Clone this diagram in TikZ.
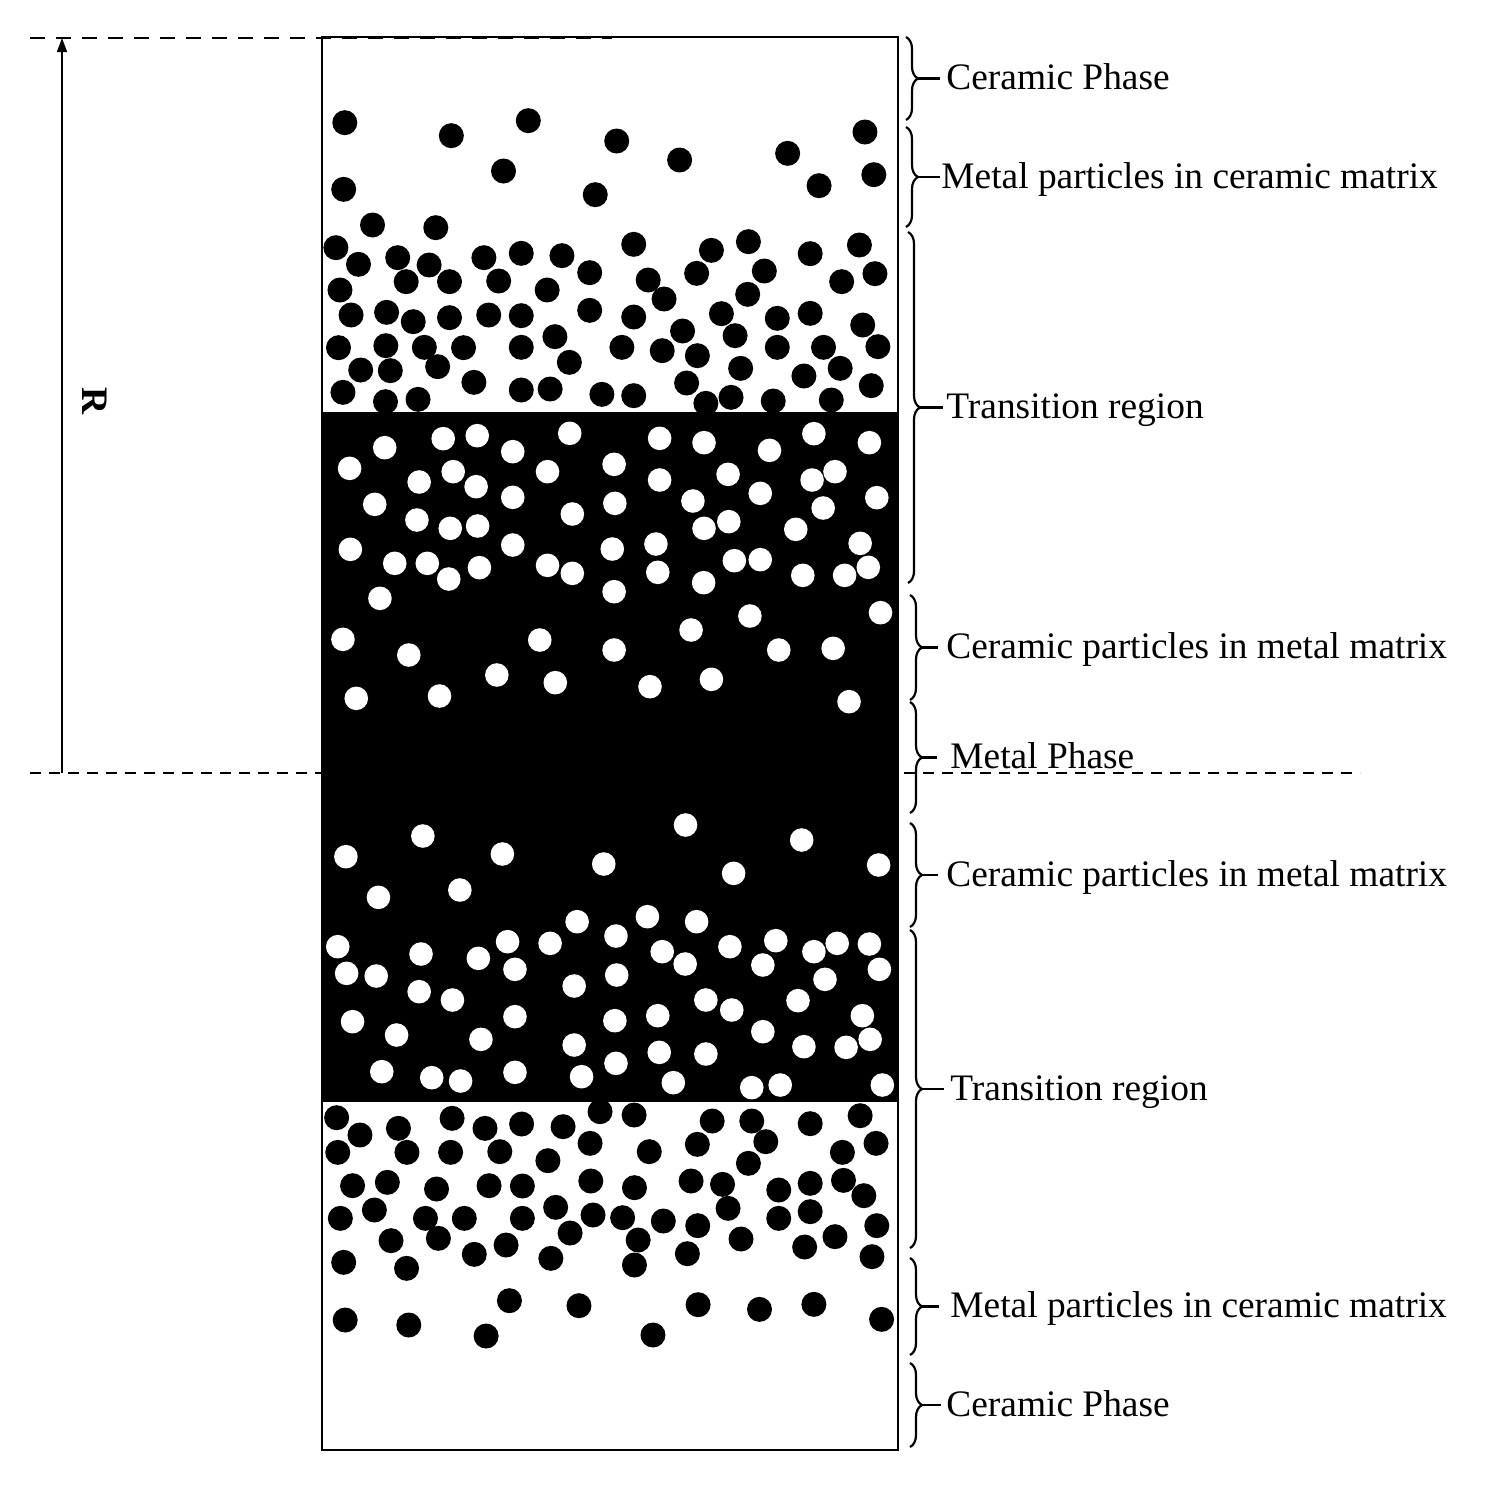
\documentclass[tikz,border=0pt]{standalone}
\usepackage{fontspec}
\setmainfont{Liberation Serif}
\usetikzlibrary{decorations.pathreplacing,arrows.meta}
\begin{document}
\begin{tikzpicture}[x=0.5pt,y=-0.5pt,
  lbl/.style={anchor=base west,inner sep=0pt,font=\fontsize{18.7}{22}\selectfont},
  brc/.style={decorate,decoration={brace,amplitude=6pt},line width=1.1pt},
  tickline/.style={line width=1.1pt},
  bdot/.style={fill=black},
  wdot/.style={fill=white},
  dashA/.style={line width=1pt,dash pattern=on 7.5pt off 5.5pt},
  dashB/.style={line width=0.9pt,dash pattern=on 5.5pt off 4pt}]
\useasboundingbox (0,0) rectangle (1498,1490);
\fill[white] (0,0) rectangle (1498,1490);

% black metal band
\fill[black] (322,412) rectangle (898,1102);

% black (metal) particles, upper part
\foreach \a/\b in {67/68, 355/107, 563/62, 802/123, 972/180, 1264/160, 1473/96, 1497/224, 1349/257, 744/284, 496/213, 64/268, 142/375, 313/383}
  \fill[bdot] ({320+\a/2.703},{100+\b/3}) circle[radius=6.25pt];
\foreach \a/\b in {43/68, 104/118, 210/98, 295/120, 233/170, 350/170, 443/98, 544/85, 654/92, 729/143, 483/168, 614/195, 848/58, 887/165, 930/222, 1058/76, 1158/50, 1018/145, 1201/138, 1156/208, 1325/86, 1458/60, 1500/146, 1410/170, 54/195, 84/270, 180/262, 252/290, 350/278, 456/270, 544/272, 729/256, 848/276, 1085/266, 1236/280, 1325/265, 1467/300, 50/368, 178/362, 282/367, 388/368, 544/367, 635/335, 816/367, 980/318, 1122/332, 925/377, 1020/392, 1236/367, 1361/367, 1508/365, 110/435, 190/437, 318/425, 674/412, 1137/430, 1308/453, 1406/430, 62/502, 177/530, 265/523, 416/472, 544/495, 622/492, 762/508, 848/512, 991/474, 1043/535, 1111/517, 1225/528, 1382/525, 1490/482}
  \fill[bdot] ({320+\a/2.703},{225+\b/3}) circle[radius=6.25pt];

% white (ceramic) particles in the metal band
\foreach \a/\b in {80/175, 175/113, 333/86, 425/77, 521/125, 675/70, 918/85, 1038/98, 1215/121, 1335/71, 1485/98, 268/216, 360/185, 422/230, 615/185, 795/163, 918/210, 1103/193, 1190/250, 1330/210, 1392/185, 1505/263, 148/283, 521/262, 682/312, 797/280, 1008/273, 1360/294, 262/330, 352/355, 426/348, 1038/355, 1105/335, 1286/358, 82/418, 521/405, 790/417, 908/402, 1460/400, 202/460, 290/460, 348/507, 431/473, 615/466, 682/490, 913/487, 1120/452, 1190/449, 1037/518, 1305/496, 1418/496, 1482/472, 162/565, 795/545}
  \fill[wdot] ({320+\a/2.703},{410+\b/3}) circle[radius=5.9pt];
\foreach \a/\b in {1162/78, 1515/68, 62/148, 240/195, 594/150, 795/180, 1003/120, 1240/180, 1387/175, 478/255, 636/278, 892/290, 1058/268, 98/325, 323/318, 1430/335}
  \fill[wdot] ({320+\a/2.703},{590+\b/3}) circle[radius=5.9pt];
\foreach \a/\b in {70/170, 278/108, 493/162, 158/292, 378/270, 767/192, 988/75, 1118/220, 1302/120, 1510/195}
  \fill[wdot] ({320+\a/2.703},{800+\b/3}) circle[radius=5.9pt];
\foreach \a/\b in {695/65, 885/50, 1018/65, 48/140, 273/162, 428/175, 507/125, 622/130, 800/108, 925/155, 987/192, 1108/140, 1232/122, 1197/195, 1335/155, 1398/130, 1485/132, 1512/208, 72/220, 152/228, 527/208, 268/275, 358/300, 687/258, 802/225, 1043/300, 1113/330, 1292/302, 1365/238, 88/365, 207/405, 527/350, 435/418, 797/362, 913/347, 1197/395, 1466/347, 687/435, 917/457, 1043/462, 1308/440, 1422/442, 1487/418, 167/515, 302/533, 380/543, 527/517, 707/530, 800/490, 955/548, 1167/563, 1244/555, 1520/555}
  \fill[wdot] ({320+\a/2.703},{900+\b/3}) circle[radius=5.9pt];

% black (metal) particles, lower part
\foreach \a/\b in {45/68, 108/120, 212/100, 48/172, 235/172, 357/70, 446/100, 545/87, 657/95, 757/50, 849/60, 730/145, 486/170, 353/172, 616/197, 890/170, 1060/78, 1167/78, 1020/148, 1205/140, 1158/205, 1325/86, 1460/62, 1503/145, 1412/172, 88/272, 182/262, 315/282, 457/272, 547/273, 732/258, 850/278, 1003/258, 1088/268, 1240/285, 1325/265, 1415/256, 1470/302, 55/370, 147/345, 285/370, 390/370, 547/370, 637/337, 738/360, 818/368, 928/378, 1021/392, 1103/340, 1240/370, 1325/350, 1505/392, 192/437, 320/430, 676/414, 860/435, 1138/432, 1310/456, 1392/425, 64/502, 234/520, 417/478, 503/450, 624/490, 850/510, 993/476, 1492/485}
  \fill[bdot] ({320+\a/2.703},{1095+\b/3}) circle[radius=6.25pt];
\foreach \a/\b in {512/92, 700/107, 1022/104, 1188/118, 1335/103, 68/150, 240/165, 449/198, 900/195, 1518/148}
  \fill[bdot] ({320+\a/2.703},{1270+\b/3}) circle[radius=6.25pt];

% frame
\draw[line width=1pt] (322,37) rectangle (898,1450);

% dashed reference lines
\coordinate (dtA) at (30,38);
\coordinate (dtB) at (612,38);
\coordinate (dmA) at (30,773);
\coordinate (dmB) at (1360,773);
\draw[dashA] (dtA) -- (dtB);
\draw[dashB] (dmA) -- (dmB);

% radius arrow
\coordinate (abot) at (62,773);
\coordinate (atop) at (62,38);
\draw[line width=0.8pt,-{Triangle[length=7pt,width=5pt]}] (abot) -- (atop);
\node[font=\fontsize{18.7}{22}\selectfont\bfseries,rotate=-90,inner sep=0pt] (R) at (95,401) {R};

% braces and labels
\foreach \n/\xb/\ya/\yb/\xt/\xl/\txt in {
  1/906/37/120/940/946/Ceramic Phase,
  2/906/127/227/940/941/Metal particles in ceramic matrix,
  3/908/232/583/943/946/Transition region,
  4/910/595/700/938/946/Ceramic particles in metal matrix,
  5/910/702/813/937/950/Metal Phase,
  6/910/823/927/938/946/Ceramic particles in metal matrix,
  7/910/930/1248/944/950/Transition region,
  8/910/1258/1355/939/950/Metal particles in ceramic matrix,
  9/910/1363/1447/941/946/Ceramic Phase}{
  \coordinate (bt\n) at (\xb,\ya);
  \coordinate (bb\n) at (\xb,\yb);
  \coordinate (tip\n) at ({\xb+12},{(\ya+\yb)/2});
  \coordinate (te\n) at (\xt,{(\ya+\yb)/2});
  \draw[brc] (bt\n) -- (bb\n);
  \draw[tickline] (tip\n) -- (te\n);
  \node[lbl] (lab\n) at (\xl,{(\ya+\yb)/2+11}) {\txt};
}
\end{tikzpicture}
\end{document}
